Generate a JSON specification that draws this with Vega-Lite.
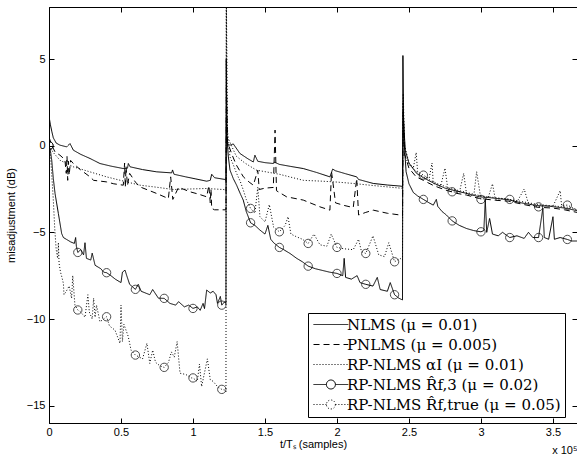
{
"$schema": "https://vega.github.io/schema/vega-lite/v6.json",
"width": 528, "height": 416,
"autosize": {"type": "none"},
"padding": {"left": 49, "top": 7, "right": 0, "bottom": 36},
"background": "white",
"config": {
  "view": {"stroke": "black", "strokeWidth": 1},
  "axis": {"grid": false, "domainColor": "black", "tickColor": "black", "labelColor": "black", "titleColor": "black",
    "labelFont": "Liberation Sans", "labelFontSize": 11, "titleFont": "Liberation Sans", "titleFontSize": 11, "titleFontWeight": "normal",
    "tickSize": -5, "labelFlush": false}
},
"title": {"text": "x 10⁵", "orient": "bottom", "anchor": "end", "fontSize": 11, "font": "Liberation Sans", "fontWeight": "normal", "color": "black", "offset": -4},
"data": {"values": [
{"s":"N","x":0,"y":1.7},{"s":"N","x":0.01,"y":1.2},{"s":"N","x":0.02,"y":0.8},{"s":"N","x":0.03,"y":0.45},{"s":"N","x":0.05,"y":0.15},{"s":"N","x":0.076,"y":0.03},{"s":"N","x":0.123,"y":-0.07},{"s":"N","x":0.146,"y":0.12},{"s":"N","x":0.169,"y":-0.26},{"s":"N","x":0.22,"y":-0.5},{"s":"N","x":0.285,"y":-0.74},{"s":"N","x":0.354,"y":-1.03},{"s":"N","x":0.43,"y":-1.18},{"s":"N","x":0.516,"y":-1.32},{"s":"N","x":0.545,"y":-1.3},{"s":"N","x":0.551,"y":-1.03},{"s":"N","x":0.563,"y":-1.22},{"s":"N","x":0.65,"y":-1.38},{"s":"N","x":0.748,"y":-1.51},{"s":"N","x":0.852,"y":-1.57},{"s":"N","x":0.858,"y":-1.4},{"s":"N","x":0.868,"y":-1.65},{"s":"N","x":0.95,"y":-1.8},{"s":"N","x":1.02,"y":-1.92},{"s":"N","x":1.095,"y":-2.05},{"s":"N","x":1.12,"y":-2.0},{"s":"N","x":1.13,"y":-1.65},{"s":"N","x":1.15,"y":-1.85},{"s":"N","x":1.222,"y":-1.95},{"s":"N","x":1.229,"y":-2.0},{"s":"N","x":1.232,"y":1.5},
{"s":"N","x":1.236,"y":0.1},{"s":"N","x":1.257,"y":0.03},{"s":"N","x":1.28,"y":0.1},{"s":"N","x":1.326,"y":-0.45},{"s":"N","x":1.38,"y":-0.75},{"s":"N","x":1.419,"y":-0.94},{"s":"N","x":1.43,"y":-0.55},{"s":"N","x":1.45,"y":-0.9},{"s":"N","x":1.5,"y":-0.98},{"s":"N","x":1.558,"y":-1.03},{"s":"N","x":1.565,"y":-0.95},{"s":"N","x":1.6,"y":-1.08},{"s":"N","x":1.68,"y":-1.2},{"s":"N","x":1.766,"y":-1.32},{"s":"N","x":1.86,"y":-1.55},{"s":"N","x":1.951,"y":-1.8},{"s":"N","x":1.97,"y":-1.35},{"s":"N","x":1.99,"y":-1.45},{"s":"N","x":2.06,"y":-1.62},{"s":"N","x":2.137,"y":-1.8},{"s":"N","x":2.15,"y":-1.95},{"s":"N","x":2.252,"y":-2.18},{"s":"N","x":2.35,"y":-2.27},{"s":"N","x":2.438,"y":-2.33},{"s":"N","x":2.455,"y":-2.35},{"s":"N","x":2.46,"y":2.0},
{"s":"N","x":2.465,"y":1.0},{"s":"N","x":2.475,"y":-0.3},{"s":"N","x":2.5,"y":-1.0},{"s":"N","x":2.553,"y":-1.6},{"s":"N","x":2.6,"y":-1.85},{"s":"N","x":2.669,"y":-2.15},{"s":"N","x":2.75,"y":-2.45},{"s":"N","x":2.83,"y":-2.62},{"s":"N","x":2.9,"y":-2.75},{"s":"N","x":2.986,"y":-2.95},{"s":"N","x":3.06,"y":-3.0},{"s":"N","x":3.19,"y":-3.12},{"s":"N","x":3.28,"y":-3.3},{"s":"N","x":3.386,"y":-3.45},{"s":"N","x":3.48,"y":-3.5},{"s":"N","x":3.583,"y":-3.6},{"s":"N","x":3.667,"y":-3.75},

{"s":"P","x":0,"y":0.5},{"s":"P","x":0.02,"y":0.0},{"s":"P","x":0.042,"y":-0.36},{"s":"P","x":0.076,"y":-0.55},{"s":"P","x":0.11,"y":-0.8},{"s":"P","x":0.12,"y":-1.6},{"s":"P","x":0.125,"y":-0.6},{"s":"P","x":0.13,"y":-2.0},{"s":"P","x":0.135,"y":-0.9},{"s":"P","x":0.14,"y":-1.7},{"s":"P","x":0.15,"y":-0.85},{"s":"P","x":0.169,"y":-1.03},{"s":"P","x":0.22,"y":-1.4},{"s":"P","x":0.285,"y":-1.8},{"s":"P","x":0.31,"y":-2.0},{"s":"P","x":0.4,"y":-2.09},{"s":"P","x":0.45,"y":-2.2},{"s":"P","x":0.516,"y":-2.28},{"s":"P","x":0.525,"y":-1.0},{"s":"P","x":0.53,"y":-2.4},{"s":"P","x":0.535,"y":-1.2},{"s":"P","x":0.545,"y":-2.3},{"s":"P","x":0.56,"y":-1.6},{"s":"P","x":0.6,"y":-2.1},{"s":"P","x":0.632,"y":-2.38},{"s":"P","x":0.7,"y":-2.6},{"s":"P","x":0.748,"y":-2.76},{"s":"P","x":0.829,"y":-3.05},{"s":"P","x":0.845,"y":-1.8},{"s":"P","x":0.86,"y":-3.1},{"s":"P","x":0.9,"y":-2.4},{"s":"P","x":0.979,"y":-2.66},{"s":"P","x":1.04,"y":-2.8},{"s":"P","x":1.095,"y":-2.95},{"s":"P","x":1.11,"y":-2.3},{"s":"P","x":1.12,"y":-3.3},{"s":"P","x":1.125,"y":-2.5},{"s":"P","x":1.13,"y":-3.62},{"s":"P","x":1.15,"y":-3.7},{"s":"P","x":1.222,"y":-3.7},{"s":"P","x":1.229,"y":-3.7},{"s":"P","x":1.232,"y":3.5},
{"s":"P","x":1.24,"y":0.2},{"s":"P","x":1.27,"y":-0.5},{"s":"P","x":1.3,"y":-1.1},{"s":"P","x":1.35,"y":-1.8},{"s":"P","x":1.39,"y":-2.1},{"s":"P","x":1.419,"y":-2.28},{"s":"P","x":1.45,"y":-1.42},{"s":"P","x":1.46,"y":-2.53},{"s":"P","x":1.5,"y":-2.45},{"s":"P","x":1.558,"y":-2.41},{"s":"P","x":1.57,"y":0.9},{"s":"P","x":1.58,"y":-2.6},{"s":"P","x":1.65,"y":-2.95},{"s":"P","x":1.766,"y":-3.14},{"s":"P","x":1.882,"y":-3.53},{"s":"P","x":1.951,"y":-3.72},{"s":"P","x":1.962,"y":-1.5},{"s":"P","x":1.99,"y":-3.3},{"s":"P","x":2.05,"y":-3.45},{"s":"P","x":2.113,"y":-3.57},{"s":"P","x":2.137,"y":-1.9},{"s":"P","x":2.15,"y":-4.0},{"s":"P","x":2.2,"y":-3.85},{"s":"P","x":2.252,"y":-3.72},{"s":"P","x":2.35,"y":-3.9},{"s":"P","x":2.438,"y":-4.0},{"s":"P","x":2.455,"y":-4.05},{"s":"P","x":2.46,"y":1.8},
{"s":"P","x":2.47,"y":-0.5},{"s":"P","x":2.5,"y":-1.3},{"s":"P","x":2.55,"y":-1.8},{"s":"P","x":2.6,"y":-2.0},{"s":"P","x":2.67,"y":-2.3},{"s":"P","x":2.75,"y":-2.55},{"s":"P","x":2.83,"y":-2.75},{"s":"P","x":2.9,"y":-2.85},{"s":"P","x":2.99,"y":-3.05},{"s":"P","x":3.1,"y":-3.15},{"s":"P","x":3.19,"y":-3.2},{"s":"P","x":3.3,"y":-3.4},{"s":"P","x":3.39,"y":-3.55},{"s":"P","x":3.5,"y":-3.6},{"s":"P","x":3.58,"y":-3.7},{"s":"P","x":3.667,"y":-3.85},

{"s":"A","x":0,"y":0},{"s":"A","x":0.03,"y":-0.4},{"s":"A","x":0.076,"y":-0.84},{"s":"A","x":0.169,"y":-1.22},{"s":"A","x":0.28,"y":-1.5},{"s":"A","x":0.4,"y":-1.8},{"s":"A","x":0.52,"y":-2.05},{"s":"A","x":0.632,"y":-2.28},{"s":"A","x":0.75,"y":-2.4},{"s":"A","x":0.863,"y":-2.53},{"s":"A","x":0.98,"y":-2.5},{"s":"A","x":1.095,"y":-2.47},{"s":"A","x":1.21,"y":-2.53},{"s":"A","x":1.229,"y":-2.55},{"s":"A","x":1.232,"y":8.5},
{"s":"A","x":1.24,"y":0.5},{"s":"A","x":1.3,"y":-0.6},{"s":"A","x":1.36,"y":-1.0},{"s":"A","x":1.44,"y":-1.41},{"s":"A","x":1.5,"y":-1.5},{"s":"A","x":1.6,"y":-1.65},{"s":"A","x":1.766,"y":-2.0},{"s":"A","x":1.9,"y":-2.05},{"s":"A","x":2.0,"y":-2.1},{"s":"A","x":2.113,"y":-2.18},{"s":"A","x":2.25,"y":-2.3},{"s":"A","x":2.44,"y":-2.45},{"s":"A","x":2.455,"y":-2.45},{"s":"A","x":2.46,"y":3.0},
{"s":"A","x":2.47,"y":0},{"s":"A","x":2.5,"y":-1.0},{"s":"A","x":2.55,"y":-1.5},{"s":"A","x":2.6,"y":-1.8},{"s":"A","x":2.7,"y":-2.2},{"s":"A","x":2.8,"y":-2.5},{"s":"A","x":2.9,"y":-2.7},{"s":"A","x":3.0,"y":-2.9},{"s":"A","x":3.2,"y":-3.1},{"s":"A","x":3.4,"y":-3.4},{"s":"A","x":3.6,"y":-3.55},{"s":"A","x":3.667,"y":-3.7},

{"s":"R3","x":0,"y":0,"m":1},{"s":"R3","x":0.01,"y":-0.3},{"s":"R3","x":0.019,"y":-0.84},{"s":"R3","x":0.03,"y":-1.9},{"s":"R3","x":0.042,"y":-2.76},{"s":"R3","x":0.065,"y":-3.91},{"s":"R3","x":0.088,"y":-5.07},{"s":"R3","x":0.1,"y":-5.3},{"s":"R3","x":0.12,"y":-5.4},{"s":"R3","x":0.15,"y":-5.55},{"s":"R3","x":0.176,"y":-5.64},{"s":"R3","x":0.185,"y":-5.3},{"s":"R3","x":0.19,"y":-5.8},{"s":"R3","x":0.2,"y":-6.16,"m":1},{"s":"R3","x":0.22,"y":-6.0},{"s":"R3","x":0.24,"y":-6.3},{"s":"R3","x":0.25,"y":-5.6},{"s":"R3","x":0.26,"y":-6.5},{"s":"R3","x":0.29,"y":-6.6},{"s":"R3","x":0.3,"y":-6.2},{"s":"R3","x":0.32,"y":-6.9},{"s":"R3","x":0.36,"y":-7.1},{"s":"R3","x":0.38,"y":-7.3},{"s":"R3","x":0.4,"y":-7.33,"m":1},{"s":"R3","x":0.43,"y":-7.5},{"s":"R3","x":0.46,"y":-7.7},{"s":"R3","x":0.5,"y":-7.9},{"s":"R3","x":0.51,"y":-7.3},{"s":"R3","x":0.528,"y":-7.18},{"s":"R3","x":0.54,"y":-7.5},{"s":"R3","x":0.56,"y":-8.0},{"s":"R3","x":0.6,"y":-8.29,"m":1},{"s":"R3","x":0.62,"y":-8.0},{"s":"R3","x":0.64,"y":-8.4},{"s":"R3","x":0.7,"y":-8.6},{"s":"R3","x":0.72,"y":-8.3},{"s":"R3","x":0.76,"y":-8.8},{"s":"R3","x":0.8,"y":-8.81,"m":1},{"s":"R3","x":0.84,"y":-9.1},{"s":"R3","x":0.88,"y":-9.2},{"s":"R3","x":0.9,"y":-9.0},{"s":"R3","x":0.94,"y":-9.3},{"s":"R3","x":0.97,"y":-9.2},{"s":"R3","x":1.0,"y":-9.39,"m":1},{"s":"R3","x":1.03,"y":-9.3},{"s":"R3","x":1.05,"y":-9.5},{"s":"R3","x":1.07,"y":-9.1},{"s":"R3","x":1.08,"y":-9.4},{"s":"R3","x":1.095,"y":-8.33},{"s":"R3","x":1.12,"y":-8.5},{"s":"R3","x":1.14,"y":-8.4},{"s":"R3","x":1.16,"y":-8.6},{"s":"R3","x":1.17,"y":-9.1},{"s":"R3","x":1.19,"y":-8.7},{"s":"R3","x":1.2,"y":-9.2,"m":1},{"s":"R3","x":1.22,"y":-9.0},{"s":"R3","x":1.229,"y":-9.1},{"s":"R3","x":1.231,"y":5.0},
{"s":"R3","x":1.236,"y":0.5},{"s":"R3","x":1.245,"y":-0.6},{"s":"R3","x":1.257,"y":-1.41},{"s":"R3","x":1.28,"y":-1.9},{"s":"R3","x":1.303,"y":-2.28},{"s":"R3","x":1.33,"y":-2.8},{"s":"R3","x":1.349,"y":-3.14},{"s":"R3","x":1.37,"y":-3.8},{"s":"R3","x":1.4,"y":-4.45,"m":1},{"s":"R3","x":1.43,"y":-4.6},{"s":"R3","x":1.465,"y":-4.87},{"s":"R3","x":1.5,"y":-5.1},{"s":"R3","x":1.52,"y":-4.6},{"s":"R3","x":1.54,"y":-5.4},{"s":"R3","x":1.56,"y":-5.6},{"s":"R3","x":1.6,"y":-5.87,"m":1},{"s":"R3","x":1.63,"y":-6.0},{"s":"R3","x":1.674,"y":-6.22},{"s":"R3","x":1.72,"y":-6.5},{"s":"R3","x":1.76,"y":-6.7},{"s":"R3","x":1.8,"y":-6.95,"m":1},{"s":"R3","x":1.85,"y":-7.1},{"s":"R3","x":1.9,"y":-7.2},{"s":"R3","x":1.95,"y":-7.3},{"s":"R3","x":2.0,"y":-7.37,"m":1},{"s":"R3","x":2.04,"y":-7.5},{"s":"R3","x":2.05,"y":-6.5},{"s":"R3","x":2.06,"y":-7.6},{"s":"R3","x":2.1,"y":-7.7},{"s":"R3","x":2.14,"y":-7.5},{"s":"R3","x":2.16,"y":-7.9},{"s":"R3","x":2.2,"y":-8.0,"m":1},{"s":"R3","x":2.25,"y":-8.1},{"s":"R3","x":2.28,"y":-7.6},{"s":"R3","x":2.3,"y":-8.3},{"s":"R3","x":2.35,"y":-8.4},{"s":"R3","x":2.37,"y":-7.9},{"s":"R3","x":2.4,"y":-8.6,"m":1},{"s":"R3","x":2.43,"y":-8.8},{"s":"R3","x":2.455,"y":-8.9},{"s":"R3","x":2.458,"y":5.2},
{"s":"R3","x":2.462,"y":1.8},{"s":"R3","x":2.466,"y":0.3},{"s":"R3","x":2.48,"y":-1.5},{"s":"R3","x":2.5,"y":-2.2},{"s":"R3","x":2.53,"y":-2.7},{"s":"R3","x":2.56,"y":-2.9},{"s":"R3","x":2.6,"y":-3.1,"m":1},{"s":"R3","x":2.64,"y":-3.3},{"s":"R3","x":2.669,"y":-3.43},{"s":"R3","x":2.69,"y":-3.1},{"s":"R3","x":2.7,"y":-3.5},{"s":"R3","x":2.73,"y":-3.8},{"s":"R3","x":2.76,"y":-4.0},{"s":"R3","x":2.8,"y":-4.34,"m":1},{"s":"R3","x":2.85,"y":-4.6},{"s":"R3","x":2.9,"y":-4.78},{"s":"R3","x":2.95,"y":-4.9},{"s":"R3","x":3.0,"y":-4.97,"m":1},{"s":"R3","x":3.02,"y":-4.9},{"s":"R3","x":3.03,"y":-3.1},{"s":"R3","x":3.04,"y":-5.0},{"s":"R3","x":3.06,"y":-4.2},{"s":"R3","x":3.08,"y":-5.1},{"s":"R3","x":3.12,"y":-5.2},{"s":"R3","x":3.15,"y":-5.0},{"s":"R3","x":3.2,"y":-5.3,"m":1},{"s":"R3","x":3.25,"y":-5.2},{"s":"R3","x":3.3,"y":-5.35},{"s":"R3","x":3.33,"y":-5.0},{"s":"R3","x":3.36,"y":-5.3},{"s":"R3","x":3.4,"y":-5.3,"m":1},{"s":"R3","x":3.43,"y":-3.6},{"s":"R3","x":3.44,"y":-5.3},{"s":"R3","x":3.47,"y":-5.4},{"s":"R3","x":3.5,"y":-4.1},{"s":"R3","x":3.51,"y":-5.4},{"s":"R3","x":3.55,"y":-5.3},{"s":"R3","x":3.6,"y":-5.41,"m":1},{"s":"R3","x":3.63,"y":-5.5},{"s":"R3","x":3.667,"y":-5.5},

{"s":"Rt","x":0,"y":0,"m":1},{"s":"Rt","x":0.01,"y":-0.5},{"s":"Rt","x":0.02,"y":-1.8},{"s":"Rt","x":0.03,"y":-3.14},{"s":"Rt","x":0.04,"y":-4.8},{"s":"Rt","x":0.05,"y":-6.0},{"s":"Rt","x":0.06,"y":-6.5},{"s":"Rt","x":0.065,"y":-5.6},{"s":"Rt","x":0.07,"y":-6.8},{"s":"Rt","x":0.08,"y":-7.3},{"s":"Rt","x":0.09,"y":-7.6},{"s":"Rt","x":0.1,"y":-7.95},{"s":"Rt","x":0.104,"y":-8.6},{"s":"Rt","x":0.12,"y":-8.4},{"s":"Rt","x":0.14,"y":-8.1},{"s":"Rt","x":0.157,"y":-8.8},{"s":"Rt","x":0.165,"y":-7.5},{"s":"Rt","x":0.18,"y":-9.2},{"s":"Rt","x":0.2,"y":-9.48,"m":1},{"s":"Rt","x":0.22,"y":-9.6},{"s":"Rt","x":0.25,"y":-9.9},{"s":"Rt","x":0.27,"y":-8.6},{"s":"Rt","x":0.28,"y":-9.6},{"s":"Rt","x":0.3,"y":-10.0},{"s":"Rt","x":0.31,"y":-8.8},{"s":"Rt","x":0.32,"y":-9.9},{"s":"Rt","x":0.33,"y":-9.2},{"s":"Rt","x":0.354,"y":-10.16},{"s":"Rt","x":0.38,"y":-10.0},{"s":"Rt","x":0.4,"y":-9.87,"m":1},{"s":"Rt","x":0.42,"y":-10.4},{"s":"Rt","x":0.458,"y":-10.64},{"s":"Rt","x":0.493,"y":-11.4},{"s":"Rt","x":0.5,"y":-9.2},{"s":"Rt","x":0.51,"y":-11.3},{"s":"Rt","x":0.52,"y":-10.3},{"s":"Rt","x":0.55,"y":-11.0},{"s":"Rt","x":0.57,"y":-11.8},{"s":"Rt","x":0.6,"y":-12.08,"m":1},{"s":"Rt","x":0.65,"y":-12.3},{"s":"Rt","x":0.68,"y":-11.4},{"s":"Rt","x":0.7,"y":-12.56},{"s":"Rt","x":0.72,"y":-11.8},{"s":"Rt","x":0.74,"y":-12.5},{"s":"Rt","x":0.77,"y":-12.7},{"s":"Rt","x":0.8,"y":-12.79,"m":1},{"s":"Rt","x":0.83,"y":-12.5},{"s":"Rt","x":0.85,"y":-11.9},{"s":"Rt","x":0.87,"y":-12.2},{"s":"Rt","x":0.89,"y":-11.3},{"s":"Rt","x":0.91,"y":-13.13},{"s":"Rt","x":0.95,"y":-13.2},{"s":"Rt","x":0.99,"y":-13.4},{"s":"Rt","x":1.0,"y":-13.4,"m":1},{"s":"Rt","x":1.03,"y":-13.6},{"s":"Rt","x":1.045,"y":-12.6},{"s":"Rt","x":1.06,"y":-13.9},{"s":"Rt","x":1.08,"y":-13.1},{"s":"Rt","x":1.1,"y":-12.3},{"s":"Rt","x":1.12,"y":-13.5},{"s":"Rt","x":1.14,"y":-13.6},{"s":"Rt","x":1.17,"y":-13.9},{"s":"Rt","x":1.2,"y":-14.06,"m":1},{"s":"Rt","x":1.22,"y":-14.1},{"s":"Rt","x":1.229,"y":-14.2},{"s":"Rt","x":1.231,"y":9},
{"s":"Rt","x":1.236,"y":1.5},{"s":"Rt","x":1.245,"y":0.2},{"s":"Rt","x":1.257,"y":-0.65},{"s":"Rt","x":1.28,"y":-1.1},{"s":"Rt","x":1.303,"y":-1.6},{"s":"Rt","x":1.33,"y":-2.1},{"s":"Rt","x":1.349,"y":-2.55},{"s":"Rt","x":1.37,"y":-3.1},{"s":"Rt","x":1.4,"y":-3.62,"m":1},{"s":"Rt","x":1.43,"y":-3.9},{"s":"Rt","x":1.45,"y":-2.4},{"s":"Rt","x":1.465,"y":-4.1},{"s":"Rt","x":1.5,"y":-4.4},{"s":"Rt","x":1.53,"y":-3.4},{"s":"Rt","x":1.56,"y":-4.7},{"s":"Rt","x":1.6,"y":-4.97,"m":1},{"s":"Rt","x":1.64,"y":-4.6},{"s":"Rt","x":1.66,"y":-4.1},{"s":"Rt","x":1.68,"y":-5.1},{"s":"Rt","x":1.72,"y":-5.26},{"s":"Rt","x":1.76,"y":-5.4},{"s":"Rt","x":1.8,"y":-5.64,"m":1},{"s":"Rt","x":1.84,"y":-5.1},{"s":"Rt","x":1.882,"y":-5.72},{"s":"Rt","x":1.93,"y":-5.8},{"s":"Rt","x":1.96,"y":-5.1},{"s":"Rt","x":2.0,"y":-5.87,"m":1},{"s":"Rt","x":2.05,"y":-5.95},{"s":"Rt","x":2.113,"y":-6.0},{"s":"Rt","x":2.15,"y":-5.4},{"s":"Rt","x":2.17,"y":-6.1},{"s":"Rt","x":2.2,"y":-6.22,"m":1},{"s":"Rt","x":2.25,"y":-5.2},{"s":"Rt","x":2.29,"y":-6.3},{"s":"Rt","x":2.33,"y":-6.4},{"s":"Rt","x":2.36,"y":-5.6},{"s":"Rt","x":2.4,"y":-6.7,"m":1},{"s":"Rt","x":2.438,"y":-6.5},{"s":"Rt","x":2.455,"y":-6.6},{"s":"Rt","x":2.458,"y":2.5},
{"s":"Rt","x":2.462,"y":0.5},{"s":"Rt","x":2.47,"y":-0.6},{"s":"Rt","x":2.5,"y":-1.1},{"s":"Rt","x":2.53,"y":-1.3},{"s":"Rt","x":2.55,"y":-0.4},{"s":"Rt","x":2.56,"y":-1.5},{"s":"Rt","x":2.6,"y":-1.7,"m":1},{"s":"Rt","x":2.64,"y":-1.9},{"s":"Rt","x":2.66,"y":-1.0},{"s":"Rt","x":2.669,"y":-2.18},{"s":"Rt","x":2.72,"y":-2.35},{"s":"Rt","x":2.75,"y":-1.3},{"s":"Rt","x":2.77,"y":-2.5},{"s":"Rt","x":2.8,"y":-2.66,"m":1},{"s":"Rt","x":2.85,"y":-2.7},{"s":"Rt","x":2.88,"y":-1.6},{"s":"Rt","x":2.9,"y":-2.8},{"s":"Rt","x":2.95,"y":-2.9},{"s":"Rt","x":2.97,"y":-1.5},{"s":"Rt","x":3.0,"y":-3.1,"m":1},{"s":"Rt","x":3.05,"y":-3.0},{"s":"Rt","x":3.08,"y":-2.2},{"s":"Rt","x":3.1,"y":-3.1},{"s":"Rt","x":3.15,"y":-3.05},{"s":"Rt","x":3.2,"y":-3.1,"m":1},{"s":"Rt","x":3.25,"y":-3.25},{"s":"Rt","x":3.3,"y":-2.5},{"s":"Rt","x":3.33,"y":-3.35},{"s":"Rt","x":3.4,"y":-3.53,"m":1},{"s":"Rt","x":3.45,"y":-3.45},{"s":"Rt","x":3.5,"y":-3.5},{"s":"Rt","x":3.55,"y":-2.6},{"s":"Rt","x":3.56,"y":-3.45},{"s":"Rt","x":3.6,"y":-3.43,"m":1},{"s":"Rt","x":3.667,"y":-3.7}
]},
"resolve": {"axis": {"x": "independent", "y": "independent"}},
"layer": [
  {
    "mark": {"type": "line", "clip": true, "color": "black"},
    "encoding": {
      "x": {"field": "x", "type": "quantitative", "scale": {"domain": [0, 3.667], "nice": false, "zero": false},
        "axis": {"values": [0, 0.5, 1, 1.5, 2, 2.5, 3, 3.5], "format": "~g", "title": "t/Tₛ (samples)", "labelPadding": 8, "titlePadding": 1}},
      "y": {"field": "y", "type": "quantitative", "scale": {"domain": [-16, 8], "nice": false, "zero": false},
        "axis": {"values": [-15, -10, -5, 0, 5], "format": "~g", "title": "misadjustment (dB)", "labelPadding": 9, "titlePadding": 10}},
      "strokeDash": {"field": "s", "type": "nominal",
        "scale": {"domain": ["N", "P", "A", "R3", "Rt"], "range": [[1, 0], [6, 4], [1, 2], [1, 0], [1, 2]]},
        "legend": {"orient": "none", "legendX": 259, "legendY": 306, "title": null,
          "strokeColor": "black", "fillColor": "white", "padding": 4, "rowPadding": 4,
          "labelFont": "DejaVu Serif", "labelFontSize": 15, "labelColor": "black", "labelLimit": 400, "labelOffset": 20,
          "symbolType": "M-1,0H4.8", "symbolSize": 144, "symbolStrokeColor": "black", "symbolStrokeWidth": 1, "symbolFillColor": "transparent",
          "labelExpr": "({'N':'NLMS (μ = 0.01)','P':'PNLMS (μ = 0.005)','A':'RP-NLMS αI (μ = 0.01)','R3':'RP-NLMS R̂f,3 (μ = 0.02)','Rt':'RP-NLMS R̂f,true (μ = 0.05)'})[datum.label]",
          "encode": {"symbols": {"update": {"shape": {"signal": "(datum.value == 'R3' || datum.value == 'Rt') ? 'M-1,0H1.15M2.65,0H4.8M2.65,0A0.75,0.75,0,1,1,1.15,0A0.75,0.75,0,1,1,2.65,0' : 'M-1,0H4.8'"}}}}
        }},
      "strokeWidth": {"field": "s", "type": "nominal", "scale": {"domain": ["N", "P", "A", "R3", "Rt"], "range": [1, 1, 1, 1.6, 1]}, "legend": null}
    }
  },
  {
    "transform": [{"filter": "datum.m == 1"}],
    "mark": {"type": "point", "shape": "circle", "size": 70, "filled": false, "color": "black", "strokeWidth": 1, "clip": true},
    "encoding": {
      "x": {"field": "x", "type": "quantitative", "axis": {"orient": "top", "values": [0, 0.5, 1, 1.5, 2, 2.5, 3, 3.5], "labels": false, "title": null, "domain": false}},
      "y": {"field": "y", "type": "quantitative", "axis": {"orient": "right", "values": [-15, -10, -5, 0, 5], "labels": false, "title": null, "domain": false}}
    }
  }
]
}
